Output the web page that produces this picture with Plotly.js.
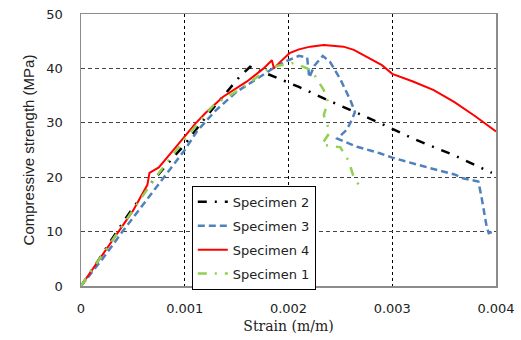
<!DOCTYPE html>
<html>
<head>
<meta charset="utf-8">
<script src="https://cdn.plot.ly/plotly-3.0.1.min.js"></script>
<style>html,body{margin:0;padding:0;background:#fff;}#chart{width:521px;height:340px;}</style>
</head>
<body>
<div id="chart"></div>
<script>
// Specimen 2 (black dash-dot)
const s2_x = [0, 0.00014, 0.00028, 0.00044, 0.00058, 0.0007, 0.00085, 0.001, 0.0012, 0.0014, 0.00153, 0.00163, 0.0019, 0.0021, 0.00234, 0.00264, 0.0029, 0.0032, 0.0036, 0.00396];
const s2_y = [0, 3.9, 8.1, 12.7, 16.4, 19.5, 22.8, 26, 31, 35.5, 38.5, 40.3, 38.2, 36.6, 34.5, 32.0, 29.8, 27.1, 24.0, 20.8];
// Specimen 3 (blue dashed)
const s3_x = [0, 0.0002, 0.0004, 0.0006, 0.0008, 0.001, 0.00112, 0.0013, 0.0015, 0.00173, 0.0019, 0.002, 0.0021, 0.00218, 0.0022, 0.00225, 0.00233, 0.0024, 0.0025, 0.0026, 0.00264, 0.00261, 0.00256, 0.00247, 0.00266, 0.00288, 0.003, 0.0033, 0.0036, 0.00368, 0.00383, 0.00386, 0.00391, 0.00393, 0.00396];
const s3_y = [0, 4.8, 10, 15, 20, 25, 28.5, 32.3, 35.7, 38.5, 40.6, 41.5, 42.3, 42, 38.3, 40.5, 42.3, 41.2, 38, 34, 32, 30.5, 28.7, 27.1, 25.6, 24.4, 23.6, 22, 20.5, 19.8, 19.2, 16.4, 10.9, 9.7, 9.9];
// Specimen 4 (red solid)
const s4_x = [0, 0.0001, 0.0003, 0.0005, 0.00064, 0.00066, 0.00075, 0.0009, 0.001, 0.0011, 0.0012, 0.00137, 0.0016, 0.00176, 0.00184, 0.00186, 0.00192, 0.00201, 0.0021, 0.00221, 0.00234, 0.00245, 0.00253, 0.00263, 0.00272, 0.0029, 0.003, 0.0032, 0.0034, 0.0036, 0.0038, 0.004];
const s4_y = [0, 2.7, 8.3, 13.8, 18.6, 20.8, 21.8, 25.2, 27.6, 29.8, 31.8, 34.8, 37.6, 40, 41.5, 40, 41.2, 42.8, 43.5, 44, 44.3, 44.2, 44, 43.4, 42.5, 40.6, 39, 37.6, 36, 33.8, 31.2, 28.4];
// Specimen 1 (green dash-dot)
const s1_x = [0, 0.0001, 0.0003, 0.0005, 0.0007, 0.0009, 0.001, 0.00128, 0.00152, 0.00179, 0.0019, 0.00205, 0.00218, 0.00226, 0.00234, 0.00238, 0.00234, 0.0024, 0.00232, 0.0025, 0.00258, 0.00262, 0.00268];
const s1_y = [0, 2.8, 8.5, 14, 19.5, 24.5, 27, 33.3, 36, 39.7, 40.5, 41, 40, 38.5, 36, 33.9, 31.4, 28.3, 26, 25.5, 23, 20.5, 18.5];

const names = ["Specimen 2", "Specimen 3", "Specimen 4", "Specimen 1"];
const xTicks = [0, 0.001, 0.002, 0.003, 0.004];
const xTickText = ["0", "0.001", "0.002", "0.003", "0.004"];
const yTicks = [0, 10, 20, 30, 40, 50];

const traces = [
  {x: s2_x, y: s2_y, name: names[0], legendgroup: 'a', mode: 'lines', line: {color: '#000000', width: 2.5, dash: '9px,8px,2px,8px'}},
  {x: s3_x, y: s3_y, name: names[1], legendgroup: 'b', mode: 'lines', line: {color: '#4F81BD', width: 2.5, dash: '7px,4px'}},
  {x: s4_x, y: s4_y, name: names[2], legendgroup: 'c', mode: 'lines', line: {color: '#FF0000', width: 2}},
  {x: s1_x, y: s1_y, name: names[3], legendgroup: 'd', mode: 'lines', line: {color: '#92D050', width: 2.5, dash: '9px,8px,2px,8px'}}
];

const layout = {
  width: 521, height: 340,
  margin: {l: 81, r: 25, t: 14, b: 54},
  paper_bgcolor: '#fff', plot_bgcolor: '#fff',
  showlegend: true,
  legend: {x: 0.267, y: 0.368, xanchor: 'left', yanchor: 'top', bgcolor: '#fff', bordercolor: '#000', borderwidth: 1,
           font: {family: 'DejaVu Sans', size: 13, color: '#222'}, tracegroupgap: 4, traceorder: 'grouped'},
  xaxis: {
    range: [0, 0.004], tickvals: xTicks, ticktext: xTickText,
    showgrid: true, gridcolor: '#000', griddash: '3px,3px', gridwidth: 1,
    showline: true, linecolor: '#8c8c8c', linewidth: 1.5, mirror: true,
    zeroline: false, ticks: 'outside', ticklen: 10, tickcolor: 'rgba(0,0,0,0)',
    tickfont: {family: 'DejaVu Sans', size: 13, color: '#222'},
    title: {text: 'Strain (m/m)', font: {family: 'DejaVu Serif', size: 14, color: '#222'}, standoff: 6}
  },
  yaxis: {
    range: [0, 50], tickvals: yTicks,
    showgrid: true, gridcolor: '#444', griddash: '4px,3px', gridwidth: 1,
    showline: true, linecolor: '#8c8c8c', linewidth: 1.5, mirror: true,
    zeroline: false, ticks: 'outside', ticklen: 14, tickcolor: 'rgba(0,0,0,0)',
    tickfont: {family: 'DejaVu Sans', size: 13, color: '#222'},
    title: {text: 'Compressive strength (MPa)', font: {family: 'Liberation Sans Narrow, Liberation Sans', size: 15, color: '#222'}, standoff: 8}
  }
};

Plotly.newPlot('chart', traces, layout, {displayModeBar: false, staticPlot: true});
</script>
</body>
</html>
